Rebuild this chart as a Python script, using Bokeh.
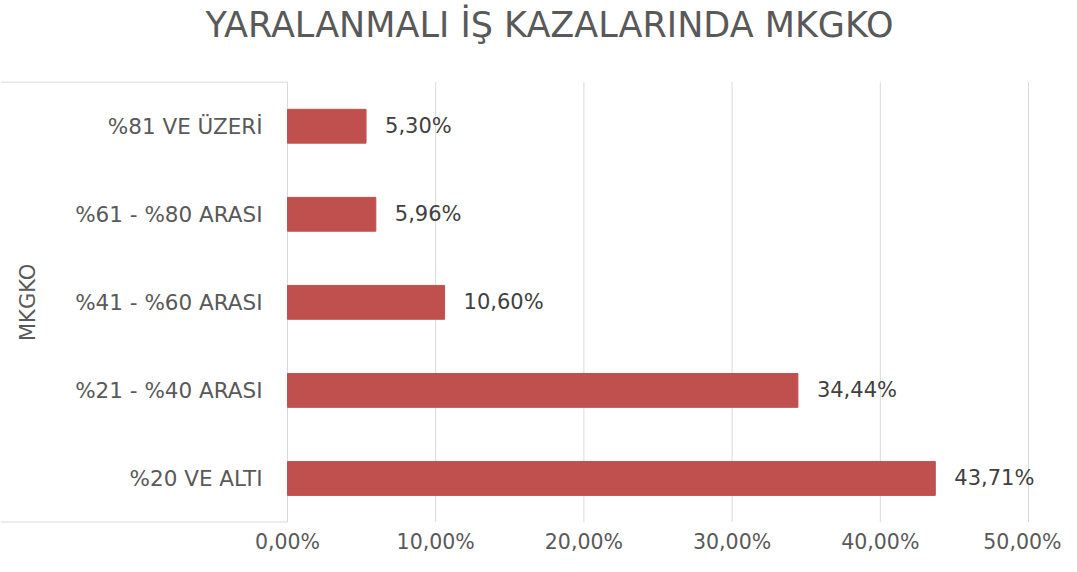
import math
from bokeh.plotting import figure
from bokeh.models import Range1d, FixedTicker, CustomJSTickFormatter, ColumnDataSource
from bokeh.core.properties import value
from bokeh.embed import file_html
from bokeh.resources import INLINE

title_text = "YARALANMALI İŞ KAZALARINDA MKGKO"
axis_title = "MKGKO"
categories = ["%20 VE ALTI", "%21 - %40 ARASI", "%41 - %60 ARASI", "%61 - %80 ARASI", "%81 VE ÜZERİ"]
values = [43.71, 34.44, 10.60, 5.96, 5.30]
x_ticks = [0, 10, 20, 30, 40, 50]

FONT = "DejaVu Sans"
GRID = "#D9D9D9"
TXT = "#595959"

# layout (pixels)
W, H = 1061, 556
ORIGIN_PX = 287          # x pixel of the 0 value
END_PX = 1028            # x pixel of the last tick
PLOT_TOP_PX = 82         # top of the category area
FRAME_BOTTOM_PX = 524    # bottom of the category area
X_MAX = x_ticks[-1]
n = len(categories)

ppu_x = (END_PX - ORIGIN_PX) / X_MAX
ppu_y = (FRAME_BOTTOM_PX - PLOT_TOP_PX) / n
x0 = -ORIGIN_PX / ppu_x
x1 = (W - ORIGIN_PX) / ppu_x
y_bot = -0.5
y_top_area = n - 0.5
y_top = y_top_area + PLOT_TOP_PX / ppu_y

ys = list(range(n))
labels = [("%.2f" % v).replace(".", ",") + "%" for v in values]
src = ColumnDataSource(dict(y=ys, v=values, lab=labels, cat=categories))

p = figure(width=W, height=H, output_backend="svg", toolbar_location=None,
           x_range=Range1d(x0, x1), y_range=Range1d(y_bot, y_top),
           min_border_left=0, min_border_right=0, min_border_top=0,
           min_border_bottom=H - FRAME_BOTTOM_PX)

p.outline_line_color = None
p.background_fill_color = "white"
p.border_fill_color = "white"

p.yaxis.visible = False
p.ygrid.grid_line_color = None
p.xgrid.grid_line_color = None

p.xaxis.ticker = FixedTicker(ticks=x_ticks)
p.xaxis.formatter = CustomJSTickFormatter(code="return tick.toFixed(2).replace('.', ',') + '%';")
p.xaxis.axis_line_color = None
p.xaxis.major_tick_line_color = None
p.xaxis.minor_tick_line_color = None
p.xaxis.major_tick_out = 0
p.xaxis.major_tick_in = 0
p.xaxis.minor_tick_out = 0
p.xaxis.minor_tick_in = 0
p.xaxis.major_label_text_font = FONT
p.xaxis.major_label_text_font_size = "20.5px"
p.xaxis.major_label_text_color = TXT
p.xaxis.major_label_standoff = 7

# vertical gridlines at the ticks
p.segment(x0=x_ticks, x1=x_ticks, y0=[y_bot] * len(x_ticks), y1=[y_top_area] * len(x_ticks),
          line_color=GRID, line_width=1)

# box lines around the category area
p.segment(x0=[x0], x1=[0], y0=[y_top_area], y1=[y_top_area], line_color=GRID, line_width=1)
p.segment(x0=[x0], x1=[0], y0=[y_bot], y1=[y_bot], line_color=GRID, line_width=2)

p.hbar(y="y", right="v", left=0, height=0.384, source=src,
       fill_color="#C0504D", line_color="#C0504D")

p.text(x="v", y="y", text="lab", source=src, x_offset=19,
       text_font=value(FONT), text_font_size="21px", text_color="#404040",
       text_align="left", text_baseline="middle")

p.text(x=-25 / ppu_x, y="y", text="cat", source=src,
       text_font=value(FONT), text_font_size="21.5px", text_color=TXT,
       text_align="right", text_baseline="middle")

p.text(x=[-(ORIGIN_PX - 27) / ppu_x], y=[(n - 1) / 2], text=[axis_title],
       angle=math.pi / 2,
       text_font=value(FONT), text_font_size="21px", text_color=TXT,
       text_align="center", text_baseline="middle")

# chart title
p.text(x=[(549 - ORIGIN_PX) / ppu_x], y=[y_top_area + (PLOT_TOP_PX - 25) / ppu_y], text=[title_text],
       text_font=value(FONT), text_font_size="35px", text_color=TXT,
       text_align="center", text_baseline="middle")

open("out.html", "w").write(file_html(p, INLINE))
